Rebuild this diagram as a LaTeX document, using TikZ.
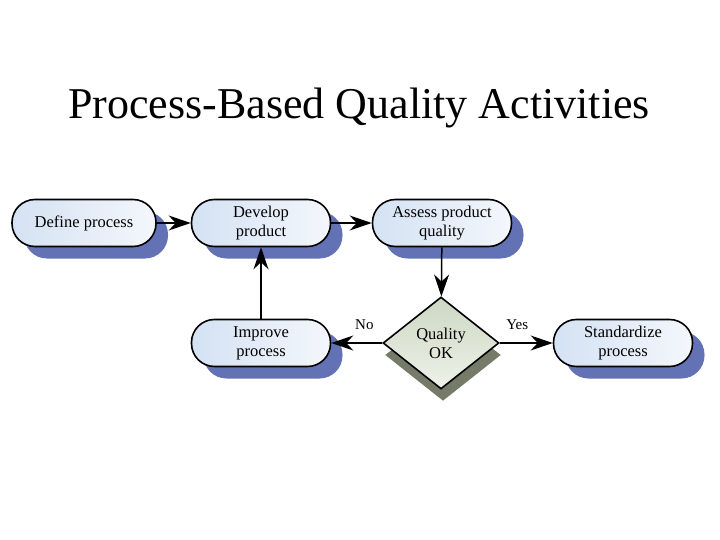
\documentclass[tikz,border=0pt]{standalone}
\usepackage{fontspec}
\setmainfont{Liberation Serif}
\usetikzlibrary{shapes.geometric,arrows.meta,shadows}
\definecolor{shblue}{RGB}{98,114,180}
\definecolor{shgray}{RGB}{118,122,104}
\definecolor{boxl}{RGB}{212,226,243}
\definecolor{boxr}{RGB}{244,247,252}
\definecolor{diaml}{RGB}{205,215,195}
\definecolor{diamr}{RGB}{238,242,232}
\tikzset{
  procbox/.style={draw=black, line width=1.6pt, rounded corners=23pt,
    minimum width=139pt, minimum height=47pt, inner sep=0pt, align=center,
    left color=boxl, right color=boxr, font=\fontsize{16.5}{19}\selectfont,
    general shadow={shadow xshift=12pt, shadow yshift=-12pt, fill=shblue}},
  decision/.style={diamond, draw=black, line width=1.6pt, aspect=1.26,
    minimum width=116pt, minimum height=92pt, inner sep=0pt, align=center,
    top color=diaml, bottom color=diamr, font=\fontsize{16.5}{19}\selectfont,
    general shadow={shadow xshift=2pt, shadow yshift=-12pt, fill=shgray}},
  flow/.style={line width=1.5pt, -{Stealth[length=22pt,width=15pt,inset=7pt]}},
  lbl/.style={font=\fontsize{15}{16}\selectfont, inner sep=1pt}
}
\begin{document}
\begin{tikzpicture}[x=1pt,y=-1pt]
\useasboundingbox (0,0) rectangle (720,540);
\node[font=\fontsize{44}{46}\selectfont] (title) at (359,108) {Process-Based Quality Activities};
\node[procbox, minimum width=144pt] (def) at (84,223) {Define process};
\node[procbox] (dev) at (261,223) {Develop\\product};
\node[procbox] (ass) at (442,223) {Assess product\\quality};
\node[procbox] (imp) at (261,343) {Improve\\process};
\node[decision] (qok) at (441,343) {Quality\\OK};
\node[procbox] (std) at (623,343) {Standardize\\process};
\draw[flow] (def) -- (dev);
\draw[flow] (dev) -- (ass);
\draw[flow] (ass) -- (qok);
\draw[flow] (imp) -- (dev);
\draw[flow] (qok) -- node[lbl, above=12pt, pos=0.35] (no) {No} (imp);
\draw[flow] (qok) -- node[lbl, above=12pt, pos=0.33] (yes) {Yes} (std);
\end{tikzpicture}
\end{document}
